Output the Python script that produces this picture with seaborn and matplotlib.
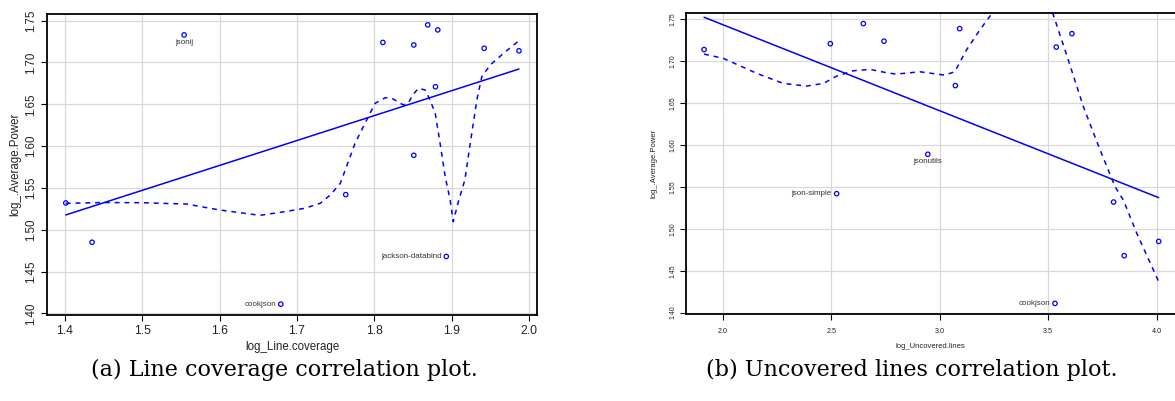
import numpy as np
import pandas as pd
import matplotlib
matplotlib.use("Agg")
import matplotlib.pyplot as plt
import seaborn as sns

# ---------------- data ----------------
power = [1.733, 1.724, 1.721, 1.745, 1.739, 1.717, 1.714, 1.671, 1.589, 1.542,
         1.532, 1.485, 1.411, 1.468]
line_cov = [1.554, 1.811, 1.851, 1.869, 1.882, 1.942, 1.987, 1.879, 1.851, 1.763,
            1.401, 1.435, 1.679, 1.893]
uncovered = [3.609, 2.743, 2.496, 2.648, 3.092, 3.537, 1.914, 3.072, 2.945, 2.525,
             3.801, 4.009, 3.531, 3.850]
names = ["jsonij", "", "", "", "", "", "", "", "jsonutils", "json-simple",
         "", "", "cookjson", "jackson-databind"]
labels_a = ["jsonij", "cookjson", "jackson-databind"]
labels_b = ["json-simple", "jsonutils", "cookjson"]

# dashed smoother curves
smooth_a_x = [1.401, 1.450, 1.500, 1.557, 1.600, 1.652, 1.680, 1.710, 1.730, 1.743,
              1.756, 1.775, 1.790, 1.801, 1.814, 1.8225, 1.8375, 1.844, 1.8506, 1.857,
              1.8657, 1.872, 1.8787, 1.885, 1.8916, 1.898, 1.902, 1.9086, 1.917, 1.924,
              1.9325, 1.939, 1.9498, 1.967, 1.987]
smooth_a_y = [1.5316, 1.5325, 1.5323, 1.5307, 1.5236, 1.5172, 1.5210, 1.5256, 1.5316, 1.5415,
              1.5555, 1.6033, 1.6312, 1.6512, 1.6579, 1.6572, 1.6492, 1.6519, 1.6623, 1.6692,
              1.6671, 1.6551, 1.6392, 1.6033, 1.5634, 1.5355, 1.5096, 1.5335, 1.5595, 1.6033,
              1.6551, 1.6831, 1.6970, 1.7110, 1.7261]
smooth_b_x = [1.914, 2.003, 2.157, 2.279, 2.387, 2.464, 2.525, 2.602, 2.679, 2.756,
              2.800, 2.908, 3.023, 3.069, 3.123, 3.184, 3.243,
              3.520, 3.585, 3.662, 3.739, 3.808, 3.846, 3.908, 4.009]
smooth_b_y = [1.7086, 1.7035, 1.6856, 1.6736, 1.6704, 1.6736, 1.6823, 1.6887, 1.6903, 1.6863,
              1.6847, 1.6875, 1.6835, 1.6875, 1.7134, 1.7372, 1.7579,
              1.7580, 1.7074, 1.6457, 1.5940, 1.5502, 1.5344, 1.4946, 1.4369]
smooth_b_seg = [0] * 17 + [1] * 8

xticks_a = [1.4, 1.5, 1.6, 1.7, 1.8, 1.9, 2.0]
xticks_b = [2.0, 2.5, 3.0, 3.5, 4.0]
yticks = [1.40, 1.45, 1.50, 1.55, 1.60, 1.65, 1.70, 1.75]

captions = ["(a) Line coverage correlation plot.", "(b) Uncovered lines correlation plot."]

# ---------------- style ----------------
sns.set_style("whitegrid", {"grid.color": "#d9d9d9", "axes.edgecolor": "black"})
plt.rcParams["font.family"] = ["Liberation Sans", "DejaVu Sans"]

BLUE = "#0000ff"
df = pd.DataFrame({"power": power, "line_cov": line_cov,
                   "uncovered": uncovered, "name": names})

fig = plt.figure(figsize=(11.75, 4.01), dpi=100)
ax1 = fig.add_axes([47 / 1175, 1 - 315 / 401, 490 / 1175, 301 / 401])
ax2 = fig.add_axes([685.7 / 1175, 1 - 314.3 / 401, 1 - 685.7 / 1175, 301.6 / 401])


def panel(ax, xcol, sx, sy, sseg, labels, xticks, xfmt, tick_fs, lab_fs,
          xlabel, ylabel, xlim, ypad_x, xl_coords, yl_coords):
    sns.regplot(data=df, x=xcol, y="power", ax=ax, ci=None, scatter=False,
                truncate=True, line_kws=dict(color=BLUE, lw=1.1))
    sns.lineplot(x=sx, y=sy, units=sseg, estimator=None, sort=False, ax=ax,
                 color=BLUE, lw=1.1, linestyle=(0, (3.2, 3.2)))
    sns.scatterplot(data=df, x=xcol, y="power", ax=ax, marker="o", s=10,
                    facecolors="none", edgecolor=BLUE, linewidth=0.9, zorder=5)
    for xv, yv, nm in zip(df[xcol], df["power"], df["name"]):
        if nm in labels:
            if nm in ("jsonij", "jsonutils"):
                ax.annotate(nm, (xv, yv), xytext=(0, -3), textcoords="offset points",
                            ha="center", va="top", fontsize=5.8, color="#333333")
            else:
                ax.annotate(nm, (xv, yv), xytext=(-3.5, 0), textcoords="offset points",
                            ha="right", va="center", fontsize=5.8, color="#333333")
    ax.set_xlim(*xlim)
    ax.set_ylim(1.398, 1.758)
    ax.set_xticks(xticks)
    ax.set_xticklabels([xfmt.format(v) for v in xticks], fontsize=tick_fs[0], color="#222222")
    ax.set_yticks(yticks)
    ax.set_yticklabels(["{:.2f}".format(v) for v in yticks], fontsize=tick_fs[1],
                       color="#222222", rotation=90, va="center")
    ax.tick_params(axis="both", which="major", direction="out", length=4, width=0.8,
                   color="black", bottom=True, left=True)
    ax.tick_params(axis="x", pad=ypad_x[0])
    ax.tick_params(axis="y", pad=ypad_x[1])
    ax.grid(True, color="#d9d9d9", lw=0.9)
    for sp in ax.spines.values():
        sp.set_color("black")
        sp.set_linewidth(1.3)
    ax.set_xlabel(xlabel, fontsize=lab_fs, color="#222222")
    ax.set_ylabel(ylabel, fontsize=lab_fs, color="#222222")
    ax.xaxis.set_label_coords(*xl_coords)
    ax.xaxis.label.set_va("center")
    ax.yaxis.set_label_coords(*yl_coords)
    ax.yaxis.label.set_va("center")
    ax.yaxis.label.set_ha("center")


panel(ax1, "line_cov", smooth_a_x, smooth_a_y, [0] * len(smooth_a_x), labels_a,
      xticks_a, "{:.1f}", (8.8, 8.3), 8.3, "log_Line.coverage", "log_.Average.Power",
      (1.3767, 2.0103), (3, 3), (0.5, -0.105), (-0.065, 0.5))
panel(ax2, "uncovered", smooth_b_x, smooth_b_y, smooth_b_seg, labels_b,
      xticks_b, "{:.1f}", (5.2, 5.0), 5.5, "log_Uncovered.lines", "log_.Average.Power",
      (1.8295, 4.084), (6, 3), (0.5, -0.108), (-0.065, 0.5))
ax2.spines["right"].set_visible(False)

fig.text(284 / 1175, 1 - 376 / 401, captions[0], family="DejaVu Serif", fontsize=16,
         ha="center", va="baseline", color="black")
fig.text(912 / 1175, 1 - 376 / 401, captions[1], family="DejaVu Serif", fontsize=16,
         ha="center", va="baseline", color="black")

fig.savefig("out.png", dpi=100)
